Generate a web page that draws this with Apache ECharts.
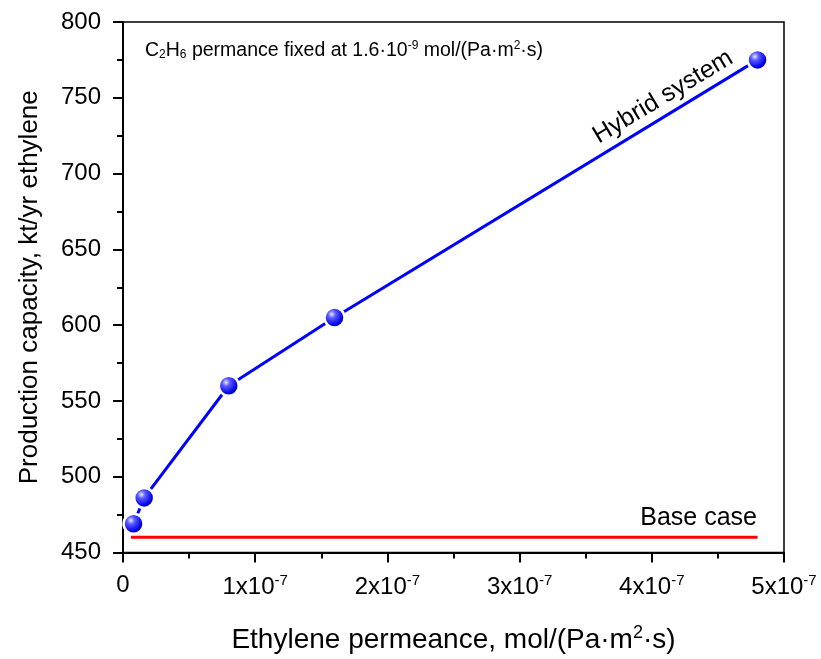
<!DOCTYPE html>
<html>
<head>
<meta charset="utf-8">
<script src="https://cdn.jsdelivr.net/npm/echarts@6/dist/echarts.min.js"></script>
<style>
  html, body { margin: 0; padding: 0; background: #fff; }
  #chart { width: 821px; height: 659px; }
</style>
</head>
<body>
<div id="chart"></div>
<script>
// Ethylene permeance (mol/(Pa·m²·s)) vs production capacity (kt/yr)
const hybridPermeance = [8e-9, 1.6e-8, 8e-8, 1.6e-7, 4.8e-7];
const hybridCapacity = [469, 486, 560, 605, 775];

const basePermeance = [6e-9, 4.8e-7];
const baseCapacity = [460, 460];

const yTicks = [450, 500, 550, 600, 650, 700, 750, 800];
const xExponent = -7;

const FONT = "'Liberation Sans', Arial, sans-serif";

const chart = echarts.init(document.getElementById("chart"));

const ball = {
	type: "radial", x: 0.38, y: 0.35, r: 0.7,
	colorStops: [
		{ offset: 0, color: "#e8e8ff" },
		{ offset: 0.25, color: "#5a5aff" },
		{ offset: 0.7, color: "#0000e6" },
		{ offset: 1, color: "#00008a" },
	],
};

chart.setOption({
	animation: false,
	textStyle: { fontFamily: FONT },
	grid: {
		left: 123, right: 37, top: 22, bottom: 106,
		show: true, borderColor: "#000", borderWidth: 1.5,
	},
	xAxis: {
		type: "value",
		min: 0, max: 5e-7, interval: 1e-7,
		name: "Ethylene permeance, mol/(Pa·m{s|2}·s)",
		nameLocation: "middle",
		nameGap: 72,
		nameTextStyle: {
			fontSize: 28, color: "#000", fontFamily: FONT,
			rich: { s: { fontSize: 18, verticalAlign: "top", padding: [0, 0, 13, 0], fontFamily: FONT } },
		},
		axisLine: { lineStyle: { color: "#000", width: 2 } },
		axisTick: { inside: false, length: 10, lineStyle: { color: "#000", width: 2 } },
		minorTick: { show: true, splitNumber: 2, length: 6, lineStyle: { color: "#000", width: 2 } },
		splitLine: { show: false },
		axisLabel: {
			margin: 21, color: "#000",
			formatter: (v) => {
				const n = Math.round(v / 1e-7);
				if (n === 0) return "{b|0}";
				return `{b|${n}x10}{s|${xExponent}}`;
			},
			rich: {
				b: { fontSize: 24, color: "#000", fontFamily: FONT },
				s: { fontSize: 15, color: "#000", fontFamily: FONT, verticalAlign: "top", padding: [0, 0, 12, 0] },
			},
		},
	},
	yAxis: {
		type: "value",
		min: yTicks[0], max: yTicks[yTicks.length - 1], interval: 50,
		name: "Production capacity, kt/yr ethylene",
		nameLocation: "middle",
		nameGap: 80,
		nameTextStyle: { fontSize: 26, color: "#000", fontFamily: FONT },
		axisLine: { show: true, lineStyle: { color: "#000", width: 2 } },
		axisTick: { inside: false, length: 10, lineStyle: { color: "#000", width: 2 } },
		minorTick: { show: true, splitNumber: 2, length: 6, lineStyle: { color: "#000", width: 2 } },
		splitLine: { show: false },
		axisLabel: { margin: 22, color: "#000", fontSize: 24, fontFamily: FONT },
	},
	series: [
		{
			name: "Base case",
			type: "line",
			data: basePermeance.map((x, i) => [x, baseCapacity[i]]),
			showSymbol: false,
			lineStyle: { color: "#ff0000", width: 3 },
			z: 2,
		},
		{
			name: "Hybrid system",
			type: "line",
			data: hybridPermeance.map((x, i) => [x, hybridCapacity[i]]),
			symbol: "circle",
			symbolSize: 20,
			lineStyle: { color: "#0000ff", width: 3 },
			itemStyle: { color: ball, borderColor: "#fff", borderWidth: 2.5 },
			z: 3,
		},
	],
	graphic: [
		{
			type: "text", left: 145, top: 40,
			style: {
				text: "C{sub|2}H{sub|6} permance fixed at 1.6·10{sup|-9} mol/(Pa·m{sup|2}·s)",
				fontSize: 19.5, fill: "#000", fontFamily: FONT,
				rich: {
					sub: { fontSize: 12, verticalAlign: "bottom", padding: [9, 0, 0, 0], fontFamily: FONT },
					sup: { fontSize: 12, verticalAlign: "top", padding: [0, 0, 9, 0], fontFamily: FONT },
				},
			},
		},
		{
			type: "text", x: 663, y: 97, rotation: 31 * Math.PI / 180,
			style: {
				text: "Hybrid system", fontSize: 25, fill: "#000", fontFamily: FONT,
				align: "center", verticalAlign: "middle",
			},
		},
		{
			type: "text", x: 757, y: 518,
			style: {
				text: "Base case", fontSize: 25, fill: "#000", fontFamily: FONT,
				align: "right", verticalAlign: "middle",
			},
		},
	],
});
</script>
</body>
</html>
